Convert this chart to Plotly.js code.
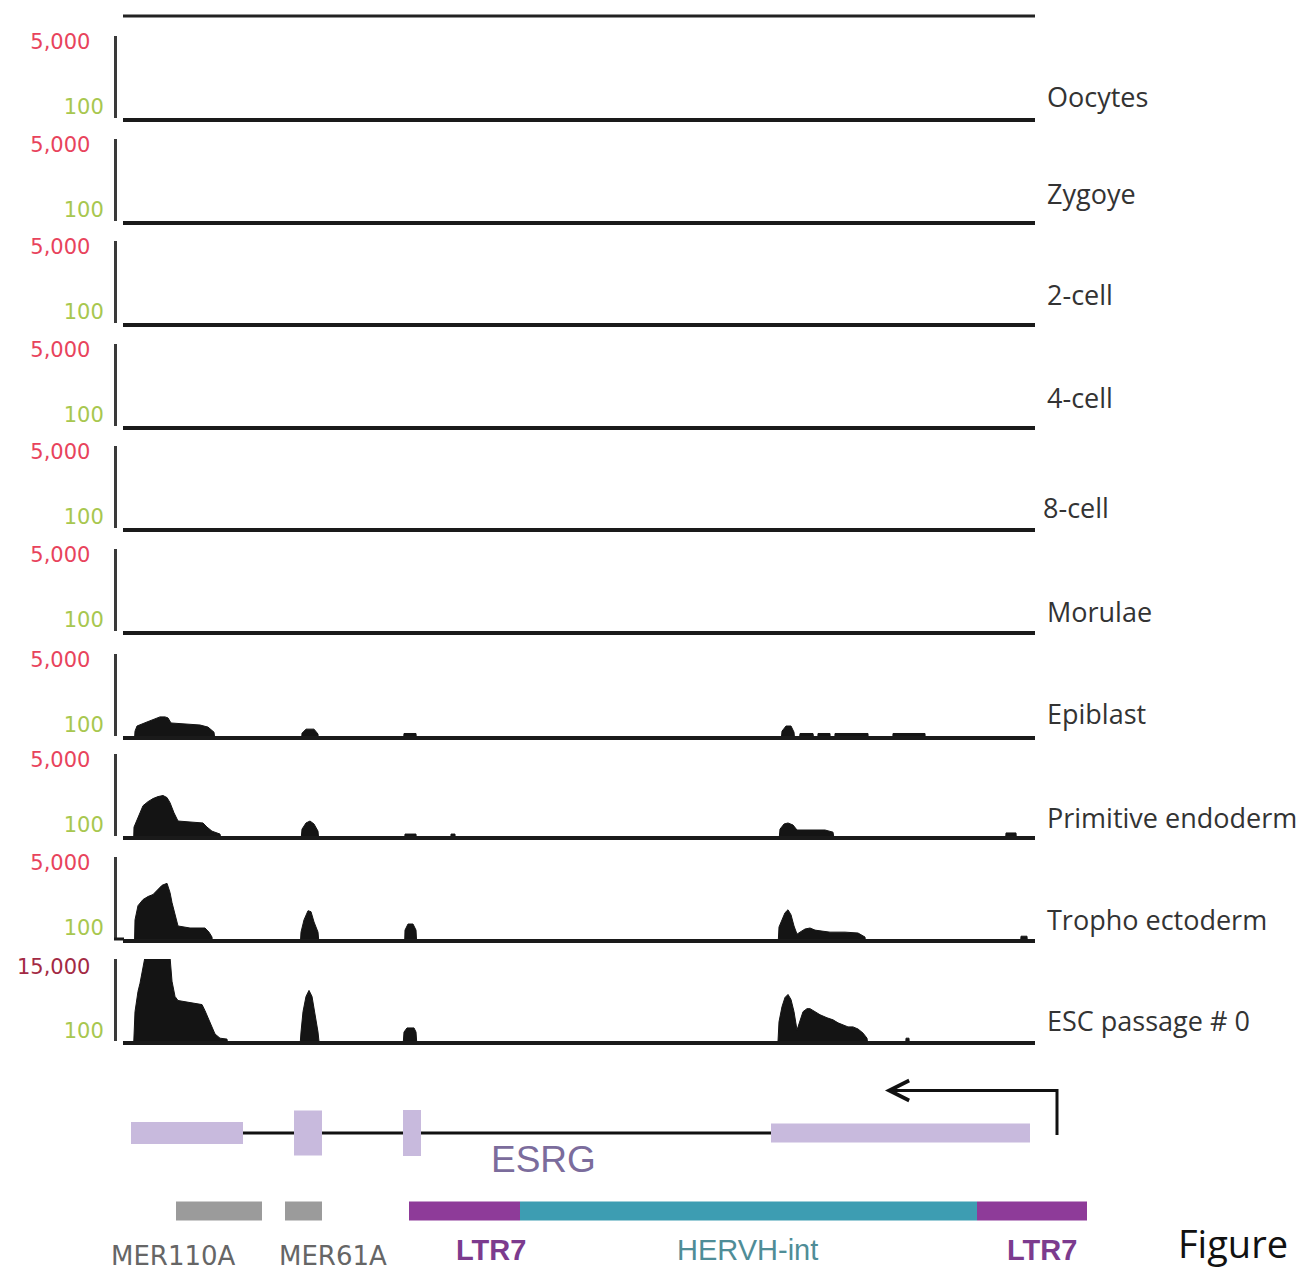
<!DOCTYPE html>
<html>
<head>
<meta charset="utf-8">
<script src="https://cdn.plot.ly/plotly-3.0.1.min.js"></script>
<style>html,body{margin:0;padding:0;background:#fff;}#chart{width:1311px;height:1271px;}</style>
</head>
<body>
<div id="chart"></div>
<script>
// ---------------- DATA ----------------
const trackNames = ['Oocytes', 'Zygoye', '2-cell', '4-cell', '8-cell', 'Morulae', 'Epiblast', 'Primitive endoderm', 'Tropho ectoderm', 'ESC passage # 0'];
const trackScaleMax = [5000, 5000, 5000, 5000, 5000, 5000, 5000, 5000, 5000, 15000];
const trackScaleMin = [100, 100, 100, 100, 100, 100, 100, 100, 100, 100];

// coverage (position in bp, read count)
const emptyPos = [0, 9120];
const emptyCov = [0, 0];
const oocytesPos = emptyPos, oocytesCov = emptyCov;
const zygotePos = emptyPos, zygoteCov = emptyCov;
const cell2Pos = emptyPos, cell2Cov = emptyCov;
const cell4Pos = emptyPos, cell4Cov = emptyCov;
const cell8Pos = emptyPos, cell8Cov = emptyCov;
const morulaePos = emptyPos, morulaeCov = emptyCov;

const epiblastPos = [0, 100, 120, 140, 240, 320, 370, 420, 450, 480, 620, 770, 850, 910, 950, 1770, 1790, 1830, 1910, 1950, 1970, 2790, 2810, 2930, 2950, 6560, 6590, 6630, 6680, 6710, 6740, 6770, 6900, 6910, 6940, 6950, 7070, 7080, 7110, 7120, 7450, 7460, 7690, 7700, 8020, 8030, 9120];
const epiblastCov = [10, 10, 69, 94, 120, 144, 163, 163, 153, 113, 106, 100, 88, 65, 10, 10, 61, 78, 78, 58, 10, 10, 60, 60, 10, 10, 69, 94, 94, 65, 10, 60, 60, 10, 10, 60, 60, 10, 10, 60, 60, 10, 10, 60, 60, 10, 10];

const primEndoPos = [0, 100, 110, 140, 200, 250, 300, 350, 400, 440, 470, 510, 550, 670, 800, 840, 890, 970, 1030, 1760, 1790, 1830, 1870, 1910, 1950, 1980, 2800, 2820, 2930, 2950, 3270, 3280, 3320, 3330, 6540, 6570, 6610, 6650, 6700, 6740, 6870, 7020, 7100, 7150, 8810, 8830, 8930, 8950, 9120];
const primEndoCov = [10, 10, 88, 136, 319, 408, 490, 553, 590, 520, 384, 208, 127, 120, 113, 88, 69, 58, 10, 10, 78, 113, 127, 106, 69, 10, 10, 58, 58, 10, 10, 58, 58, 10, 10, 78, 106, 113, 100, 74, 74, 74, 65, 10, 10, 62, 62, 10, 10];

const trophoPos = [0, 110, 120, 150, 200, 250, 300, 350, 390, 440, 470, 490, 530, 550, 670, 820, 860, 890, 910, 1760, 1780, 1810, 1850, 1880, 1910, 1950, 1980, 2810, 2820, 2850, 2900, 2930, 2950, 6540, 6560, 6590, 6620, 6650, 6680, 6710, 6740, 6770, 6820, 6870, 6920, 6990, 7070, 7220, 7350, 7420, 7450, 8960, 8980, 9040, 9060, 9120];
const trophoCov = [10, 10, 163, 384, 553, 665, 750, 1017, 1305, 1470, 848, 461, 163, 113, 100, 100, 78, 58, 10, 10, 78, 163, 283, 267, 144, 78, 10, 10, 88, 127, 127, 88, 10, 10, 106, 163, 251, 300, 221, 113, 69, 78, 94, 100, 88, 83, 78, 78, 74, 58, 10, 10, 61, 61, 10, 10];

const escPos = [0, 100, 120, 150, 170, 200, 220, 470, 490, 520, 550, 670, 790, 820, 850, 890, 920, 970, 1040, 1070, 1760, 1780, 1800, 1830, 1860, 1890, 1920, 1950, 1980, 2790, 2810, 2840, 2910, 2930, 2950, 6540, 6560, 6590, 6620, 6650, 6680, 6710, 6740, 6770, 6800, 6840, 6870, 6920, 6970, 7040, 7100, 7150, 7200, 7250, 7300, 7350, 7400, 7440, 7470, 7820, 7830, 7860, 7870, 9120];
const escCov = [10, 10, 454, 2220, 4195, 16200, 33200, 33200, 4920, 1497, 1088, 926, 791, 491, 281, 138, 79, 57, 53, 10, 10, 92, 454, 1497, 2402, 1497, 387, 92, 10, 10, 92, 127, 127, 92, 10, 10, 205, 675, 1380, 1750, 1176, 454, 108, 205, 454, 575, 575, 454, 357, 281, 240, 189, 161, 138, 138, 117, 85, 57, 10, 10, 57, 57, 10, 10];

// gene model (ESRG), bp
const geneName = 'ESRG';
const exonStart = [80, 1710, 2800, 6480];
const exonEnd = [1200, 1990, 2980, 9070];
const tssPos = 9340;

// repeat elements, bp
const repeatNames = ['MER110A', 'MER61A', 'LTR7', 'HERVH-int', 'LTR7'];
const repeatStart = [530, 1620, 2860, 3970, 8540];
const repeatEnd = [1390, 1990, 3970, 8540, 9640];

// ---------------- STYLE / LAYOUT ----------------
const W = 1311, H = 1271;
const xp = px => px / W;
const yp = px => 1 - px / H;
const trackBottom = [118, 221, 323, 426, 528, 631, 736, 836, 939, 1041];
const trackH = 82;
const trackLabelY = [97, 193, 294, 398, 507, 611, 713, 817, 919, 1020];
const trackLabelX = [1045, 1045, 1045, 1045, 1041, 1045, 1045, 1045, 1045, 1045];
const topTickOff = [6, 6, 6, 6, 6, 6, 6, 6, 6, 8];
const lowTickOff = [71, 71, 71, 71, 71, 71, 71, 71, 71, 72];
const topTickColor = ['#e8435c', '#e8435c', '#e8435c', '#e8435c', '#e8435c', '#e8435c', '#e8435c', '#e8435c', '#e8435c', '#a32a44'];
const lowTickColor = '#a8c74f';
const covColor = '#141414';
const exonHeights = [22, 45, 46, 19];
const exonColor = '#c8badd';
const repeatColors = {'MER110A': '#9b9b9b', 'MER61A': '#9b9b9b', 'LTR7': '#8e3b99', 'HERVH-int': '#3d9db2'};
const repeatLabelColors = {'MER110A': '#666666', 'MER61A': '#666666', 'LTR7': '#7c3b8e', 'HERVH-int': '#4f8d97'};
const repeatLabelX = [500, 2100, 3680, 6240, 9190];
const repeatLabelY = [1256, 1256, 1250, 1250, 1250];

const posArr = [oocytesPos, zygotePos, cell2Pos, cell4Pos, cell8Pos, morulaePos, epiblastPos, primEndoPos, trophoPos, escPos];
const covArr = [oocytesCov, zygoteCov, cell2Cov, cell4Cov, cell8Cov, morulaeCov, epiblastCov, primEndoCov, trophoCov, escCov];

function fmt(v) { return v.toLocaleString('en-US'); }
function logRange(T, topOff, lowOff) {
  const ppd = (lowOff - topOff) / Math.log10(T / 100);
  return [2 - (trackH - lowOff) / ppd, Math.log10(T) + topOff / ppd];
}

const data = [];
const layout = {
  width: W, height: H,
  margin: {l: 0, r: 0, t: 0, b: 0},
  paper_bgcolor: '#ffffff', plot_bgcolor: 'rgba(0,0,0,0)',
  showlegend: false, barmode: 'overlay',
  font: {family: 'DejaVu Sans', color: '#333'},
  annotations: [], shapes: []
};

for (let i = 0; i < 10; i++) {
  const sfx = i === 0 ? '' : String(i + 1);
  data.push({
    type: 'scatter', mode: 'lines', x: posArr[i], y: covArr[i],
    xaxis: 'x' + sfx, yaxis: 'y' + sfx,
    fill: 'tozeroy', fillcolor: covColor,
    line: {color: covColor, width: 1}, hoverinfo: 'skip'
  });
  layout['xaxis' + sfx] = {
    domain: [xp(123), xp(1035)], range: [0, 9120], anchor: 'y' + sfx,
    showline: true, linewidth: 3.5, linecolor: '#1a1a1a',
    showgrid: false, zeroline: false, ticks: '', showticklabels: false, fixedrange: true
  };
  const B = trackBottom[i];
  layout['yaxis' + sfx] = {
    domain: [yp(B), yp(B - trackH)], type: 'log',
    range: logRange(trackScaleMax[i], topTickOff[i], lowTickOff[i]),
    tickmode: 'array', tickvals: [trackScaleMin[i], trackScaleMax[i]],
    ticktext: ['<span style="color:' + lowTickColor + '">' + fmt(trackScaleMin[i]) + '</span>',
               '<span style="color:' + topTickColor[i] + '">' + fmt(trackScaleMax[i]) + '</span>\u00a0\u00a0'],
    anchor: 'free', position: xp(115),
    showline: true, linewidth: 3, linecolor: '#3a3a3a',
    showgrid: false, zeroline: false, ticks: '', ticklabelstandoff: 6,
    tickfont: {family: 'DejaVu Sans', size: 21}, fixedrange: true
  };
  layout.annotations.push({
    text: trackNames[i], xref: 'paper', yref: 'paper',
    x: xp(trackLabelX[i]), y: yp(trackLabelY[i]), xanchor: 'left', yanchor: 'middle',
    showarrow: false, font: {family: 'Open Sans', size: 27, color: '#333'}
  });
}

// top border line
layout.shapes.push({type: 'line', xref: 'x domain', yref: 'paper', x0: 0, x1: 1, y0: yp(16), y1: yp(16), line: {color: '#222', width: 3}});
// baseline extension of trophectoderm track
layout.shapes.push({type: 'line', xref: 'paper', yref: 'y9 domain', x0: xp(114), x1: xp(124), y0: 0, y1: 0, line: {color: '#1a1a1a', width: 3}});

// gene/repeat panel axes
layout.xaxis11 = {domain: [xp(123), xp(1100)], range: [0, 9770], anchor: 'y11', visible: false, fixedrange: true};
layout.yaxis11 = {domain: [yp(1235), yp(1080)], range: [0, 155], anchor: 'x11', visible: false, fixedrange: true};

// introns (between exons)
const intronX = [], intronY = [];
for (let k = 0; k < exonStart.length - 1; k++) {
  intronX.push(exonEnd[k], exonStart[k + 1], null);
  intronY.push(102, 102, null);
}
data.push({type: 'scatter', mode: 'lines', x: intronX, y: intronY, xaxis: 'x11', yaxis: 'y11',
  line: {color: '#111', width: 3}, hoverinfo: 'skip'});
// exons
data.push({type: 'bar', orientation: 'h', base: exonStart, x: exonStart.map((s, k) => exonEnd[k] - s),
  y: exonStart.map(() => 102), width: exonHeights, xaxis: 'x11', yaxis: 'y11',
  marker: {color: exonColor, line: {width: 0}}, hoverinfo: 'skip'});
// TSS
data.push({type: 'scatter', mode: 'lines', x: [tssPos, tssPos], y: [100, 146], xaxis: 'x11', yaxis: 'y11',
  line: {color: '#111', width: 3}, hoverinfo: 'skip'});
layout.annotations.push({
  x: tssPos - 1720, y: 144.5, xref: 'x11', yref: 'y11', ax: tssPos + 15, ay: 144.5, axref: 'x11', ayref: 'y11',
  text: '', showarrow: true, arrowhead: 5, arrowsize: 1.3, arrowwidth: 3, arrowcolor: '#111'
});
layout.annotations.push({
  text: geneName, x: 4200, y: 76, xref: 'x11', yref: 'y11', showarrow: false,
  font: {family: 'Liberation Sans', size: 37, color: '#7b6c9c'}
});
// repeats
data.push({type: 'bar', orientation: 'h', base: repeatStart, x: repeatStart.map((s, k) => repeatEnd[k] - s),
  y: repeatStart.map(() => 24), width: 19, xaxis: 'x11', yaxis: 'y11',
  marker: {color: repeatNames.map(n => repeatColors[n]), line: {width: 0}}, hoverinfo: 'skip'});
repeatNames.forEach((n, k) => {
  const isLTR = n === 'LTR7';
  const isMER = n.indexOf('MER') === 0;
  layout.annotations.push({
    text: isLTR ? '<b>' + n + '</b>' : n, x: repeatLabelX[k], xref: 'x11', y: yp(repeatLabelY[k]), yref: 'paper',
    showarrow: false, yanchor: 'middle',
    font: {family: isMER ? 'DejaVu Sans' : 'Liberation Sans', size: isMER ? 26 : 29, color: repeatLabelColors[n]}
  });
});
layout.annotations.push({
  text: 'Figure', x: xp(1177), y: yp(1270), xref: 'paper', yref: 'paper', xanchor: 'left', yanchor: 'bottom',
  showarrow: false, borderpad: 0, font: {family: 'Open Sans', size: 38, color: '#111'}
});

Plotly.newPlot('chart', data, layout, {staticPlot: true, displayModeBar: false});
</script>
</body>
</html>
